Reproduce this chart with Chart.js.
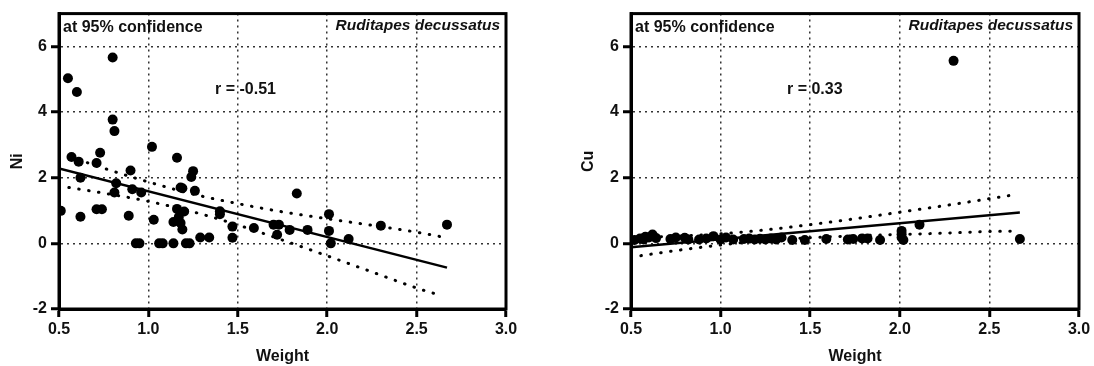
<!DOCTYPE html>
<html>
<head>
<meta charset="utf-8">
<script src="https://cdn.jsdelivr.net/npm/chart.js@4.4.0/dist/chart.umd.min.js"></script>
<style>
    html, body { margin: 0; padding: 0; background: #fff; }
    .panel { position: absolute; top: 0; width: 547px; height: 366px; }
</style>
</head>
<body>
<div class="panel" style="left:0"><canvas id="niChart"></canvas></div>
<div class="panel" style="left:547px"><canvas id="cuChart"></canvas></div>
<script>
// axis ticks
const xTicks = [0.5, 1.0, 1.5, 2.0, 2.5, 3.0];
const yTicks = [-2, 0, 2, 4, 6];

// Ni vs weight
const niWeight = [0.51, 0.55, 0.57, 0.60, 0.61, 0.62, 0.62, 0.71, 0.73, 0.71, 0.74, 0.80, 0.80, 0.81, 0.81,
    0.82, 0.89, 0.90, 0.91, 0.93, 0.95, 0.96, 1.02, 1.03, 1.06, 1.08, 1.14, 1.14, 1.16, 1.16,
    1.17, 1.18, 1.19, 1.19, 1.20, 1.18, 1.21, 1.23, 1.24, 1.25, 1.26, 1.29, 1.34, 1.40, 1.40,
    1.47, 1.47, 1.59, 1.70, 1.72, 1.73, 1.79, 1.83, 1.89, 2.01, 2.01, 2.02, 2.12, 2.30, 2.67];
const niValues = [0.99, 5.03, 2.63, 4.61, 2.49, 2.00, 0.81, 2.45, 2.76, 1.04, 1.04, 5.66, 3.77, 3.42, 1.55,
    1.83, 0.84, 2.22, 1.65, 0.00, 0.00, 1.55, 2.94, 0.72, 0.00, 0.00, 0.00, 0.65, 2.61, 1.05,
    0.80, 1.70, 0.42, 1.68, 0.97, 0.62, 0.00, 0.00, 2.02, 2.20, 1.60, 0.18, 0.18, 0.89, 0.98,
    0.51, 0.17, 0.47, 0.57, 0.26, 0.57, 0.41, 1.52, 0.41, 0.89, 0.38, 0.00, 0.13, 0.54, 0.57];
const niFitX = [0.5, 2.67];
const niFitY = [2.28, -0.74];
const niBandX = [0.5, 0.75, 1.0, 1.25, 1.5, 1.75, 2.0, 2.25, 2.5, 2.63];
const niUpper = [2.76, 2.29, 1.87, 1.50, 1.21, 0.96, 0.75, 0.55, 0.34, 0.21];
const niLower = [1.75, 1.53, 1.28, 0.96, 0.56, 0.10, -0.38, -0.87, -1.36, -1.58];

// Cu vs weight
const cuWeight = [0.52, 0.55, 0.57, 0.58, 0.60, 0.62, 0.64, 0.72, 0.75, 0.80, 0.82, 0.88, 0.92, 0.96, 1.00,
    1.03, 1.07, 1.13, 1.16, 1.19, 1.22, 1.25, 1.28, 1.31, 1.34, 1.40, 1.47, 1.59, 1.71, 1.74,
    1.79, 1.82, 1.89, 2.01, 2.01, 2.01, 2.02, 2.11, 2.30, 2.67];
const cuValues = [0.10, 0.15, 0.12, 0.20, 0.18, 0.27, 0.16, 0.13, 0.18, 0.17, 0.12, 0.12, 0.15, 0.22, 0.12,
    0.18, 0.12, 0.13, 0.15, 0.12, 0.14, 0.12, 0.15, 0.12, 0.18, 0.10, 0.10, 0.13, 0.12, 0.13,
    0.15, 0.15, 0.10, 0.38, 0.28, 0.18, 0.10, 0.57, 5.56, 0.13];
const cuFitX = [0.5, 2.67];
const cuFitY = [-0.12, 0.94];
const cuBandX = [0.5, 0.75, 1.0, 1.25, 1.5, 1.75, 2.0, 2.25, 2.5, 2.65];
const cuUpper = [0.18, 0.22, 0.29, 0.41, 0.57, 0.75, 0.95, 1.15, 1.36, 1.49];
const cuLower = [-0.42, -0.22, -0.05, 0.09, 0.17, 0.23, 0.27, 0.31, 0.36, 0.37];

const FONT = '"Liberation Sans", Arial, sans-serif';

function pairs(xs, ys) {
    return xs.map(function (x, i) { return { x: x, y: ys[i] }; });
}

// box round the plot + the notes inside it
const boxAndNotes = {
    id: 'boxAndNotes',
    afterDraw: function (chart, args, opts) {
        const ctx = chart.ctx;
        const a = chart.chartArea;
        ctx.save();
        ctx.strokeStyle = '#000';
        ctx.lineWidth = 3;
        ctx.strokeRect(a.left, a.top, a.right - a.left, a.bottom - a.top);
        ctx.fillStyle = '#111';
        ctx.textBaseline = 'middle';
        ctx.textAlign = 'left';
        ctx.font = 'bold 16px ' + FONT;
        ctx.fillText('at 95% confidence', a.left + 4, a.top + 14);
        ctx.fillText(opts.rText, a.left + 156, a.top + 76);
        ctx.textAlign = 'right';
        ctx.font = 'italic bold 15.5px ' + FONT;
        ctx.fillText('Ruditapes decussatus', a.right - 6, a.top + 12);
        ctx.restore();
    }
};

function makeChart(id, xs, ys, fitX, fitY, bandX, upper, lower, yLabel, rText, padLeft, padRight, axisWidth, titlePad) {
    const ctx = document.getElementById(id).getContext('2d');
    const tickFont = { family: FONT, size: 16, weight: 'bold' };
    return new Chart(ctx, {
        type: 'scatter',
        data: {
            datasets: [{
                    label: 'points',
                    data: pairs(xs, ys),
                    pointRadius: 5,
                    pointBackgroundColor: '#000',
                    pointBorderWidth: 0,
                    showLine: false
                }, {
                    label: 'fit',
                    data: pairs(fitX, fitY),
                    showLine: true,
                    pointRadius: 0,
                    borderColor: '#000',
                    borderWidth: 2.5
                }, {
                    label: 'upper',
                    data: pairs(bandX, upper),
                    showLine: true,
                    pointRadius: 0,
                    borderColor: '#000',
                    borderWidth: 3,
                    borderDash: [0.5, 9.5],
                    borderCapStyle: 'round',
                    cubicInterpolationMode: 'monotone'
                }, {
                    label: 'lower',
                    data: pairs(bandX, lower),
                    showLine: true,
                    pointRadius: 0,
                    borderColor: '#000',
                    borderWidth: 3,
                    borderDash: [0.5, 9.5],
                    borderCapStyle: 'round',
                    cubicInterpolationMode: 'monotone'
                }]
        },
        options: {
            responsive: true,
            maintainAspectRatio: false,
            animation: false,
            devicePixelRatio: 1,
            layout: { padding: { left: padLeft, right: padRight, top: 11, bottom: 0 } },
            plugins: {
                legend: { display: false },
                tooltip: { enabled: false },
                boxAndNotes: { rText: rText }
            },
            scales: {
                x: {
                    type: 'linear',
                    min: 0.5,
                    max: 3,
                    afterBuildTicks: function (ax) { ax.ticks = xTicks.map(function (v) { return { value: v }; }); },
                    afterFit: function (ax) { ax.height = 57; },
                    ticks: {
                        color: '#111',
                        font: tickFont,
                        padding: 3,
                        maxRotation: 0,
                        callback: function (v) { return Number(v).toFixed(1); }
                    },
                    grid: { color: '#333', lineWidth: 1.5, tickColor: '#000', tickLength: 8, tickWidth: 3, tickBorderDash: [] },
                    border: { color: '#000', width: 3, dash: [2, 4] },
                    title: { display: true, text: 'Weight', color: '#111', font: tickFont, padding: { top: 0, bottom: 0 } }
                },
                y: {
                    type: 'linear',
                    min: -2,
                    max: 7,
                    afterBuildTicks: function (ax) { ax.ticks = yTicks.map(function (v) { return { value: v }; }); },
                    afterFit: function (ax) { ax.width = axisWidth; },
                    ticks: { color: '#111', font: tickFont, padding: 4 },
                    grid: { color: '#333', lineWidth: 1.5, tickColor: '#000', tickLength: 8, tickWidth: 3, tickBorderDash: [] },
                    border: { color: '#000', width: 3, dash: [2, 4] },
                    title: { display: true, text: yLabel, color: '#111', font: tickFont, padding: { top: titlePad, bottom: 0 } }
                }
            }
        },
        plugins: [boxAndNotes]
    });
}

makeChart('niChart', niWeight, niValues, niFitX, niFitY, niBandX, niUpper, niLower, 'Ni', 'r = -0.51', 0, 41, 59, 8);
makeChart('cuChart', cuWeight, cuValues, cuFitX, cuFitY, cuBandX, cuUpper, cuLower, 'Cu', 'r = 0.33', 24, 15, 60, 7.5);
</script>
</body>
</html>
